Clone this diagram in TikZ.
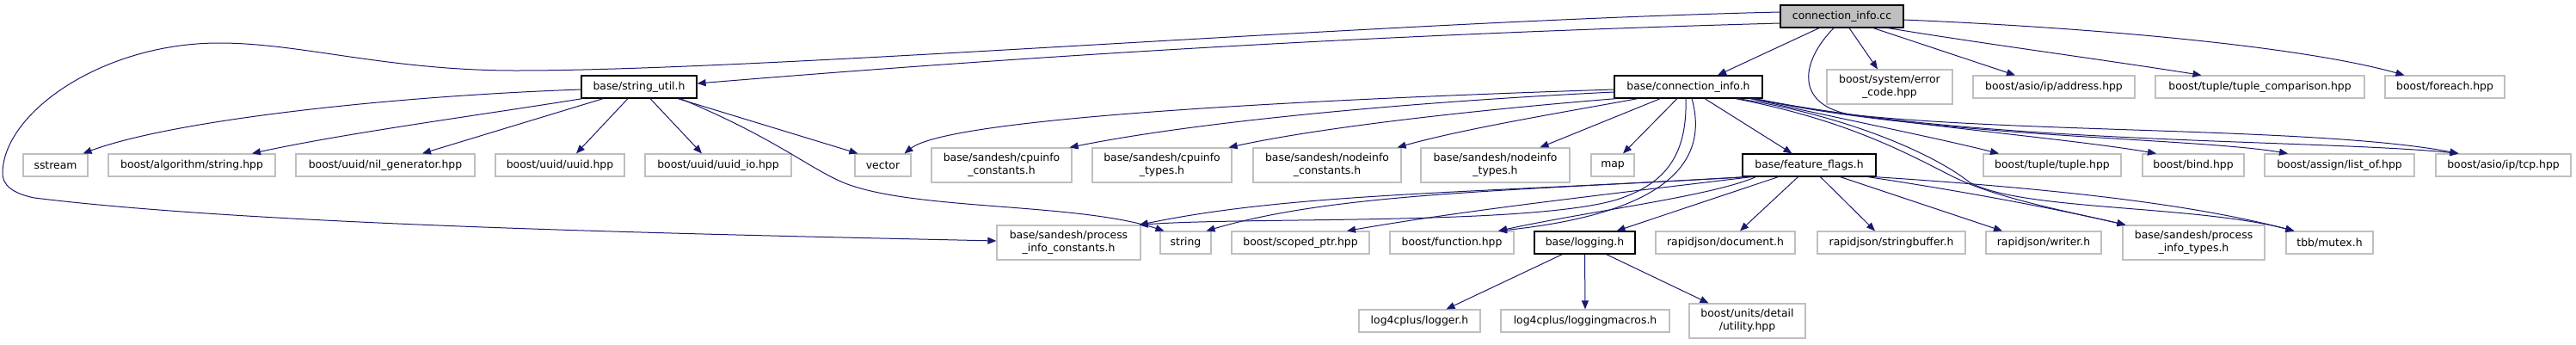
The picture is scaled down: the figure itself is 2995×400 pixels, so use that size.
\documentclass[tikz,border=0pt]{standalone}
\usepackage{fontspec}
\setmainfont{DejaVu Sans}
\usetikzlibrary{arrows.meta}
\definecolor{edgecol}{HTML}{191970}
\definecolor{extgray}{HTML}{BFBFBF}
\definecolor{ccfill}{HTML}{BFBFBF}
\begin{document}
\begin{tikzpicture}[x=1pt,y=-1pt,font=\fontsize{12.4}{15}\selectfont,
  box/.style={draw=extgray,line width=1.2pt,fill=white,inner sep=0pt,align=center,text=black},
  own/.style={box,draw=black},
  root/.style={box,draw=black,fill=ccfill},
  one/.style={minimum height=26pt},
  two/.style={minimum height=40pt},
  dep/.style={draw=edgecol,line width=1pt,-{Triangle[length=10pt,width=8pt]}}]
\useasboundingbox (0,0) rectangle (2995,400);
% rank 0
\node[root,one,minimum width=143pt] (cc) at (2141.5,19) {connection\_info.cc};
% rank 1
\node[own,one,minimum width=134pt] (su) at (743,101) {base/string\_util.h};
\node[own,one,minimum width=172pt] (ci) at (1963,101) {base/connection\_info.h};
\node[box,two,minimum width=146pt] (ec) at (2197,101) {boost/system/error\\\_code.hpp};
\node[box,one,minimum width=188pt] (addr) at (2388,101) {boost/asio/ip/address.hpp};
\node[box,one,minimum width=243pt] (tc) at (2627.5,101) {boost/tuple/tuple\_comparison.hpp};
\node[box,one,minimum width=139pt] (fe) at (2842.5,101) {boost/foreach.hpp};
% rank 2
\node[box,one,minimum width=75pt] (ss) at (64.5,192) {sstream};
\node[box,one,minimum width=194pt] (alg) at (223,192) {boost/algorithm/string.hpp};
\node[box,one,minimum width=208pt] (nil) at (448,192) {boost/uuid/nil\_generator.hpp};
\node[box,one,minimum width=150pt] (uuid) at (651,192) {boost/uuid/uuid.hpp};
\node[box,one,minimum width=170pt] (uio) at (835,192) {boost/uuid/uuid\_io.hpp};
\node[box,one,minimum width=65pt] (vec) at (1026.5,192) {vector};
\node[box,two,minimum width=163pt] (cic) at (1164.5,192) {base/sandesh/cpuinfo\\\_constants.h};
\node[box,two,minimum width=162pt] (cit) at (1351,192) {base/sandesh/cpuinfo\\\_types.h};
\node[box,two,minimum width=172pt] (nic) at (1543,192) {base/sandesh/nodeinfo\\\_constants.h};
\node[box,two,minimum width=173pt] (nit) at (1738.5,192) {base/sandesh/nodeinfo\\\_types.h};
\node[box,one,minimum width=50pt] (map) at (1875,192) {map};
\node[own,one,minimum width=155pt] (ff) at (2103.5,192) {base/feature\_flags.h};
\node[box,one,minimum width=160pt] (tup) at (2386,192) {boost/tuple/tuple.hpp};
\node[box,one,minimum width=118pt] (bind) at (2550,192) {boost/bind.hpp};
\node[box,one,minimum width=174pt] (lo) at (2720,192) {boost/assign/list\_of.hpp};
\node[box,one,minimum width=157pt] (tcp) at (2910.5,192) {boost/asio/ip/tcp.hpp};
% rank 3
\node[box,two,minimum width=167pt] (pic) at (1242.5,282) {base/sandesh/process\\\_info\_constants.h};
\node[box,one,minimum width=59pt] (str) at (1378.5,282) {string};
\node[box,one,minimum width=160pt] (sp) at (1512,282) {boost/scoped\_ptr.hpp};
\node[box,one,minimum width=144pt] (fn) at (1688,282) {boost/function.hpp};
\node[own,one,minimum width=117pt] (log) at (1842.5,282) {base/logging.h};
\node[box,one,minimum width=162pt] (doc) at (2006,282) {rapidjson/document.h};
\node[box,one,minimum width=172pt] (sb) at (2199,282) {rapidjson/stringbuffer.h};
\node[box,one,minimum width=134pt] (wr) at (2376,282) {rapidjson/writer.h};
\node[box,two,minimum width=165pt] (pit) at (2550.5,282) {base/sandesh/process\\\_info\_types.h};
\node[box,one,minimum width=101pt] (tbb) at (2708.5,282) {tbb/mutex.h};
% rank 4
\node[box,one,minimum width=141pt] (lg) at (1650.5,373) {log4cplus/logger.h};
\node[box,one,minimum width=196pt] (lm) at (1843,373) {log4cplus/loggingmacros.h};
\node[box,two,minimum width=135pt] (ut) at (2031.5,373) {boost/units/detail\\/utility.hpp};

% edges from connection_info.cc
\draw[dep] ([yshift=-8pt]cc.west) .. controls (1600,40) and (1200,65) .. ([yshift=4pt]su.east);
\draw[dep] ([yshift=5pt]cc.west) .. controls (1600,25) and (900,82) .. (600,82)
  .. controls (450,82) and (350,50) .. (255,50)
  .. controls (120,50) and (5,130) .. (3,200)
  .. controls (2,215) and (15,225) .. (40,230)
  .. controls (300,262) and (800,272) .. ([yshift=2pt]pic.west);
\draw[dep] ([xshift=-26.5pt]cc.south) -- ([xshift=34pt]ci.north);
\draw[dep] ([xshift=8.5pt]cc.south) -- ([xshift=-14pt]ec.north);
\draw[dep] ([xshift=36.5pt]cc.south) -- ([xshift=-45pt]addr.north);
\draw[dep] ([xshift=53.5pt]cc.south) .. controls (2300,50) and (2450,70) .. ([xshift=-68pt]tc.north);
\draw[dep] ([yshift=-4pt]cc.east) .. controls (2450,33) and (2680,55) .. ([xshift=-47pt]fe.north);
\draw[dep] ([xshift=-9.5pt]cc.south) .. controls (2095,70) and (2085,120) .. (2150,133)
  .. controls (2350,155) and (2700,148) .. ([xshift=-52pt]tcp.north);

% edges from base/connection_info.h
\draw[dep] ([yshift=-3pt]ci.west) .. controls (1450,118) and (1100,140) .. ([xshift=25pt]vec.north);
\draw[dep] ([yshift=-6pt]ci.west) .. controls (1650,118) and (1400,140) .. ([xshift=-3pt]cic.north east);
\draw[dep] ([xshift=3pt]ci.south west) .. controls (1750,125) and (1550,145) .. ([xshift=-4pt]cit.north east);
\draw[dep] ([xshift=28pt]ci.south west) .. controls (1820,130) and (1700,150) .. ([xshift=-5pt]nic.north east);
\draw[dep] ([xshift=54pt]ci.south west) -- ([xshift=52pt]nit.north);
\draw[dep] ([xshift=-13pt]ci.south) -- ([xshift=12pt]map.north);
\draw[dep] ([xshift=19pt]ci.south) -- ([xshift=-20pt]ff.north);
\draw[dep] ([xshift=4pt]ci.south) .. controls (1988,190) and (1935,248) .. ([xshift=54pt]fn.north);
\draw[dep] ([xshift=-3pt]ci.south) .. controls (1962,185) and (1932,215) .. (1880,232)
  .. controls (1780,262) and (1450,252) .. ([xshift=-2pt]pic.north east);
\draw[dep] ([xshift=-15pt]ci.south east) .. controls (2150,140) and (2250,160) .. ([xshift=-62pt]tup.north);
\draw[dep] ([xshift=-13pt]ci.south east) .. controls (2200,145) and (2400,160) .. ([xshift=-43pt]bind.north);
\draw[dep] ([xshift=-11pt]ci.south east) .. controls (2250,160) and (2550,160) .. ([xshift=-60pt]lo.north);
\draw[dep] ([xshift=-9pt]ci.south east) .. controls (2300,168) and (2700,162) .. ([xshift=-52pt]tcp.north);
\draw[dep] ([xshift=-32pt]ci.south east) .. controls (2150,140) and (2220,180) .. (2270,205)
  .. controls (2320,230) and (2400,245) .. ([xshift=4pt]pit.north west);
\draw[dep] ([xshift=-29pt]ci.south east) .. controls (2150,135) and (2250,180) .. (2290,212)
  .. controls (2350,245) and (2550,238) .. ([xshift=10pt]tbb.north west);

% edges from base/feature_flags.h
\draw[dep] ([xshift=4pt]ff.south west) .. controls (1700,225) and (1500,225) .. ([xshift=-2pt]pic.north east);
\draw[dep] ([xshift=7pt]ff.south west) .. controls (1750,222) and (1550,225) .. ([xshift=24pt]str.north);
\draw[dep] ([xshift=11pt]ff.south west) .. controls (1850,228) and (1700,245) .. ([xshift=54pt]sp.north);
\draw[dep] ([xshift=16pt]ff.south west) .. controls (1990,228) and (1850,245) .. ([xshift=54pt]fn.north);
\draw[dep] ([xshift=-36pt]ff.south) -- ([xshift=37pt]log.north);
\draw[dep] ([xshift=-13pt]ff.south) -- ([xshift=17pt]doc.north);
\draw[dep] ([xshift=13pt]ff.south) -- ([xshift=-19pt]sb.north);
\draw[dep] ([xshift=36pt]ff.south) -- ([xshift=-48pt]wr.north);
\draw[dep] ([xshift=-10pt]ff.south east) .. controls (2300,225) and (2400,245) .. ([xshift=4pt]pit.north west);
\draw[dep] ([xshift=-2pt]ff.south east) .. controls (2400,220) and (2550,238) .. ([xshift=10pt]tbb.north west);

% edges from base/string_util.h
\draw[dep] ([yshift=-3pt]su.west) .. controls (450,112) and (200,140) .. ([xshift=32pt]ss.north);
\draw[dep] ([xshift=2pt]su.south west) .. controls (550,135) and (400,155) .. ([xshift=70pt]alg.north);
\draw[dep] ([xshift=26pt]su.south west) -- ([xshift=43pt]nil.north);
\draw[dep] ([xshift=-13pt]su.south) -- ([xshift=19pt]uuid.north);
\draw[dep] ([xshift=13pt]su.south) -- ([xshift=-19pt]uio.north);
\draw[dep] ([xshift=45pt]su.south) -- ([xshift=4pt]vec.north west);
\draw[dep] ([xshift=48pt]su.south) .. controls (900,160) and (940,195) .. (980,212)
  .. controls (1060,245) and (1250,235) .. ([xshift=-25pt]str.north);

% edges from base/logging.h
\draw[dep] ([xshift=-26pt]log.south) -- ([xshift=31pt]lg.north);
\draw[dep] (log.south) -- (lm.north);
\draw[dep] ([xshift=25pt]log.south) -- ([xshift=-45pt]ut.north);
\end{tikzpicture}
\end{document}
